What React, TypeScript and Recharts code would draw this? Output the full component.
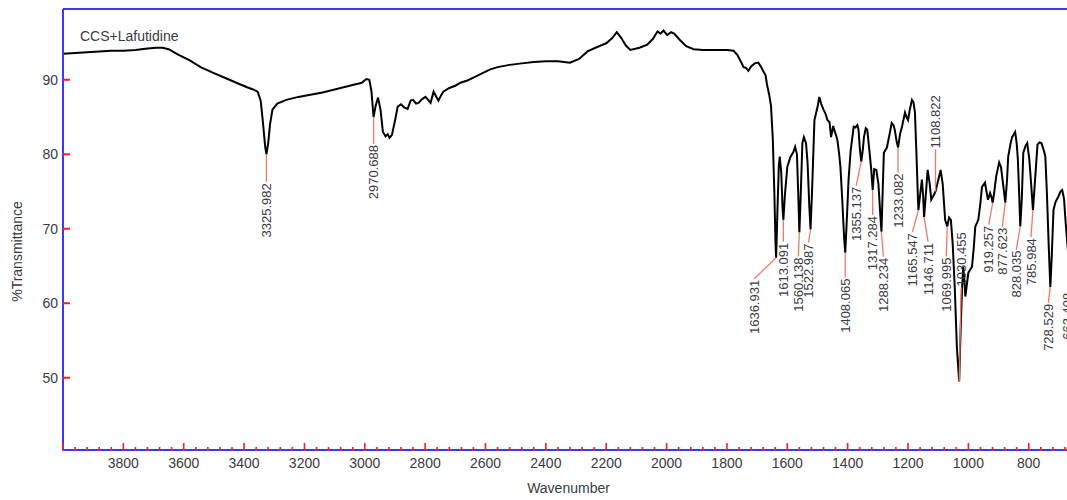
import React from 'react'
import { ComposedChart, Line, Scatter, XAxis, YAxis, ReferenceLine, Label } from 'recharts'

// ─── Data ────────────────────────────────────────────────────────────

const wavenumbers = [
  4000, 3960, 3920, 3880, 3840, 3800, 3760, 3720, 3690, 3670,
  3650, 3620, 3580, 3544, 3500, 3460, 3420, 3390, 3370, 3355,
  3345, 3338, 3330, 3326, 3320, 3314, 3306, 3290, 3260, 3220,
  3180, 3140, 3100, 3060, 3030, 3010, 2995, 2985, 2978, 2971,
  2964, 2956, 2948, 2940, 2931, 2924, 2918, 2910, 2900, 2891,
  2880, 2870, 2858, 2848, 2840, 2830, 2822, 2810, 2799, 2790,
  2782, 2772, 2764, 2756, 2746, 2740, 2720, 2700, 2683, 2660,
  2640, 2610, 2584, 2560, 2520, 2480, 2440, 2400, 2360, 2320,
  2290, 2262, 2230, 2200, 2180, 2165, 2150, 2135, 2120, 2090,
  2064, 2045, 2030, 2020, 2010, 1998, 1985, 1975, 1955, 1935,
  1910, 1880, 1840, 1800, 1778, 1765, 1752, 1745, 1737, 1729,
  1720, 1708, 1696, 1688, 1679, 1672, 1667, 1660, 1654, 1648,
  1643, 1639, 1637, 1633, 1628, 1625, 1620, 1616, 1613, 1608,
  1600, 1590, 1580, 1574, 1568, 1564, 1560, 1556, 1550, 1545,
  1538, 1533, 1527, 1523, 1518, 1510, 1500, 1494, 1488, 1480,
  1474, 1467, 1460, 1455, 1448, 1444, 1438, 1434, 1428, 1424,
  1418, 1412, 1408, 1403, 1397, 1390, 1380, 1374, 1368, 1364,
  1360, 1355, 1350, 1346, 1340, 1335, 1328, 1322, 1317, 1312,
  1305, 1298, 1292, 1288, 1284, 1280, 1270, 1262, 1254, 1248,
  1244, 1238, 1233, 1226, 1220, 1210, 1205, 1200, 1194, 1187,
  1182, 1177, 1172, 1167, 1165.5, 1160, 1154, 1150, 1146.7, 1142,
  1135, 1128, 1123, 1115, 1108.8, 1100, 1092, 1085, 1077, 1070,
  1064, 1058, 1052, 1045, 1038, 1030.5, 1026, 1021, 1017, 1013,
  1010, 1005, 1000, 994, 988, 982, 977, 967, 960, 955,
  945, 940, 935, 928, 923, 919.3, 914, 908, 898, 892,
  888, 882, 877.6, 872, 868, 860, 855, 845, 840, 836,
  832, 828, 823, 818, 810, 805, 798, 792, 786, 780,
  771, 764, 758, 750, 745, 740, 734, 728.5, 724, 718,
  712, 706, 702, 695, 689, 683, 678, 672, 667, 663.4,
  658, 650,
]

const transmittance = [
  93.5, 93.6, 93.7, 93.8, 93.9, 93.9, 94.0, 94.2, 94.3, 94.3,
  94.1, 93.4, 92.6, 91.7, 90.9, 90.2, 89.5, 89.0, 88.7, 88.4,
  87.2, 84.5, 81.0, 80.0, 81.5, 84.0, 86.0, 86.8, 87.3, 87.7,
  88.0, 88.3, 88.7, 89.1, 89.4, 89.6, 90.1, 90.0, 88.5, 85.0,
  86.5, 87.6, 86.0, 83.0, 82.4, 82.7, 82.2, 82.6, 84.5, 86.4,
  86.7, 86.3, 86.1, 87.2, 87.3, 86.8, 86.9, 87.4, 87.7, 87.3,
  86.9, 88.4, 87.8, 87.2, 88.0, 88.4, 88.9, 89.2, 89.6, 89.9,
  90.3, 90.9, 91.4, 91.7, 92.0, 92.2, 92.4, 92.5, 92.5, 92.3,
  92.8, 93.8, 94.4, 94.9, 95.6, 96.4, 95.6, 94.6, 94.0, 94.3,
  94.7, 95.5, 96.5, 96.2, 96.6, 96.0, 96.4, 96.2, 95.3, 94.5,
  94.1, 94.0, 94.0, 94.0, 93.9, 93.3, 92.3, 91.7, 91.6, 91.2,
  91.8, 92.2, 92.3, 91.8, 91.1, 90.6, 89.3, 88.0, 86.5, 82.0,
  75.0, 68.0, 66.1, 72.0, 78.5, 79.7, 77.5, 73.0, 71.2, 74.5,
  78.3, 79.6, 80.3, 81.0, 80.0, 75.0, 69.5, 74.0, 81.5, 82.3,
  81.5, 79.0, 73.0, 69.9, 75.0, 84.6, 86.3, 87.7, 86.8, 86.0,
  85.5, 84.6, 84.3, 82.3, 83.8, 83.2, 82.5, 81.9, 80.0, 78.3,
  74.0, 69.0, 66.8, 71.0, 76.6, 80.5, 83.7, 83.6, 83.9, 83.3,
  81.0, 79.0, 80.5, 82.3, 83.5, 83.3, 80.5, 78.0, 75.2, 78.0,
  77.9, 76.0, 72.0, 69.6, 75.0, 80.2, 80.9, 82.5, 84.2, 83.9,
  83.3, 81.8, 80.9, 82.8, 83.7, 85.6, 85.0, 84.6, 86.0, 87.3,
  87.0, 85.6, 80.0, 73.9, 72.5, 74.5, 76.6, 74.5, 71.6, 74.0,
  77.9, 76.0, 73.9, 74.5, 75.0, 76.5, 77.9, 76.0, 71.2, 70.3,
  71.5, 71.2, 68.0, 62.0, 54.0, 49.5, 56.0, 62.0, 64.9, 63.0,
  60.9, 62.5, 64.1, 64.5, 64.9, 67.5, 70.3, 71.2, 73.5, 75.6,
  76.2, 75.0, 73.9, 74.8, 74.2, 73.5, 75.0, 77.0, 78.9, 78.3,
  77.0, 75.0, 73.5, 76.5, 79.7, 81.5, 82.3, 83.0, 81.5, 79.3,
  75.0, 70.3, 74.0, 80.2, 81.2, 81.5, 79.3, 76.0, 72.5, 76.0,
  81.3, 81.6, 81.5, 80.5, 79.7, 75.0, 68.0, 62.2, 66.0, 72.5,
  73.5, 74.0, 74.3, 75.0, 75.2, 74.0, 71.0, 68.0, 65.5, 64.5,
  67.0, 70.0,
]

const peakWavenumbers = [
  3325.982, 2970.688, 1636.931, 1613.091, 1560.138, 1522.987, 1408.065, 1355.137,
  1317.284, 1288.234, 1233.082, 1165.547, 1146.711, 1108.822, 1069.995, 1030.455,
  919.257, 877.623, 828.035, 785.984, 728.529, 663.408,
]
const peakTransmittance = [
  80.0, 85.0, 66.1, 71.2, 69.5, 69.9, 66.8, 79.0,
  75.2, 69.6, 80.9, 72.5, 71.6, 75.0, 70.3, 49.5,
  73.5, 73.5, 70.3, 72.5, 62.2, 64.5,
]

const yTicks = [50, 60, 70, 80, 90]
const xMajorStep = 200
const xMinorStep = 40
const xDomain = [650, 4000]
const yDomain = [40.3, 99.5]
const sampleName = 'CCS+Lafutidine'

// leader line end offsets (px) for each peak label: [dx, dy]
const peakLeaders = [
  [0, 28], [0, 27], [-22, 21], [0, 22], [-1, 24], [-2, 13], [0, 25], [-5, 24],
  [0, 25], [2, 25], [0, 25], [-6, 22], [4, 25], [0, -42], [-1, 30], [2, -94],
  [-4, 22], [-3, 24], [-4, 23], [-2, 27], [-2, 16], [-2, 22],
]

const spectrum = wavenumbers.map((wn, i) => ({ wn, t: transmittance[i] }))
const peaks = peakWavenumbers.map((wn, i) => ({ wn, t: peakTransmittance[i] }))
const xTicks: number[] = []
for (let v = xDomain[1]; v > xDomain[0]; v -= xMinorStep) xTicks.push(v)

// ─── Styles ──────────────────────────────────────────────────────────

const FONT = '"Liberation Sans", Arial, sans-serif'
const FRAME = '#3838ff'
const TICK_RED = '#ff1a1a'
const LEADER = '#f07a66'
const TEXT = '#3a3a44'

// ─── Pieces ──────────────────────────────────────────────────────────

function XTick(props: any) {
  const { x, y, payload } = props
  const v = payload.value
  const major = v % xMajorStep === 0
  return (
    <g>
      <line x1={x} x2={x} y1={y - 1} y2={y - (major ? 9 : 5)} stroke={TICK_RED} strokeWidth={1.6} />
      {major && v !== xDomain[1] && (
        <text x={x} y={y + 16} textAnchor="middle" fontSize={14} fill={TEXT} fontFamily={FONT}>{v}</text>
      )}
    </g>
  )
}

function YTick(props: any) {
  const { x, y, payload } = props
  return (
    <g>
      <line x1={x + 1} x2={x + 9} y1={y} y2={y} stroke={TICK_RED} strokeWidth={2} />
      <text x={x - 3} y={y} dy="0.35em" textAnchor="end" fontSize={14} fill={TEXT} fontFamily={FONT}>{payload.value}</text>
    </g>
  )
}

function PeakMarker(props: any) {
  const { cx, cy, payload } = props
  const i = peakWavenumbers.indexOf(payload.wn)
  if (i < 0 || cx == null || cy == null) return null
  const [dx, dy] = peakLeaders[i]
  const ex = cx + dx
  const ey = cy + dy
  const below = dy > 0
  const ty = below ? ey + 1 : ey - 1
  return (
    <g>
      <line x1={cx} y1={cy} x2={ex} y2={ey} stroke={LEADER} strokeWidth={1.3} />
      <text
        x={ex}
        y={ty}
        dy="0.35em"
        transform={`rotate(-90, ${ex}, ${ty})`}
        textAnchor={below ? 'end' : 'start'}
        fontSize={13}
        fill={TEXT}
        fontFamily={FONT}
      >
        {peakWavenumbers[i].toFixed(3)}
      </text>
    </g>
  )
}

// ─── Component ───────────────────────────────────────────────────────

export default function App() {
  return (
    <div style={{ width: 1067, height: 500, overflow: 'hidden', background: '#fff' }}>
      <style>{'body{margin:0}'}</style>
      <ComposedChart
        width={1074}
        height={500}
        data={spectrum}
        margin={{ top: 9, right: 0, left: 0, bottom: 0 }}
        style={{ fontFamily: FONT }}
      >
        <XAxis
          type="number"
          dataKey="wn"
          domain={xDomain}
          reversed
          allowDataOverflow
          ticks={xTicks}
          interval={0}
          tickSize={0}
          tickLine={false}
          tick={<XTick />}
          height={50}
          axisLine={{ stroke: FRAME, strokeWidth: 2 }}
        >
          <Label
            content={({ viewBox }: any) => (
              <text x={viewBox.x + viewBox.width / 2} y={viewBox.y + 43} textAnchor="middle" fontSize={14} fill={TEXT} fontFamily={FONT}>
                Wavenumber
              </text>
            )}
          />
        </XAxis>
        <YAxis
          type="number"
          domain={yDomain}
          allowDataOverflow
          ticks={yTicks}
          interval={0}
          tickSize={0}
          tickLine={false}
          tick={<YTick />}
          width={63}
          axisLine={{ stroke: FRAME, strokeWidth: 2 }}
        >
          <Label
            content={({ viewBox }: any) => {
              const lx = viewBox.x + 17
              const ly = viewBox.y + viewBox.height / 2 + 22
              return (
                <text x={lx} y={ly} dy="0.35em" transform={`rotate(-90, ${lx}, ${ly})`} textAnchor="middle" fontSize={14} fill={TEXT} fontFamily={FONT}>
                  %Transmittance
                </text>
              )
            }}
          />
        </YAxis>
        <ReferenceLine y={yDomain[1]} stroke={FRAME} strokeWidth={2}>
          <Label
            content={({ viewBox }: any) => (
              <text x={viewBox.x + 17} y={viewBox.y + 32} fontSize={14} fill={TEXT} fontFamily={FONT}>
                {sampleName}
              </text>
            )}
          />
        </ReferenceLine>
        <Line
          type="linear"
          dataKey="t"
          stroke="#000"
          strokeWidth={2}
          dot={false}
          activeDot={false}
          isAnimationActive={false}
        />
        <Scatter data={peaks} dataKey="t" shape={<PeakMarker />} isAnimationActive={false} />
      </ComposedChart>
    </div>
  )
}
